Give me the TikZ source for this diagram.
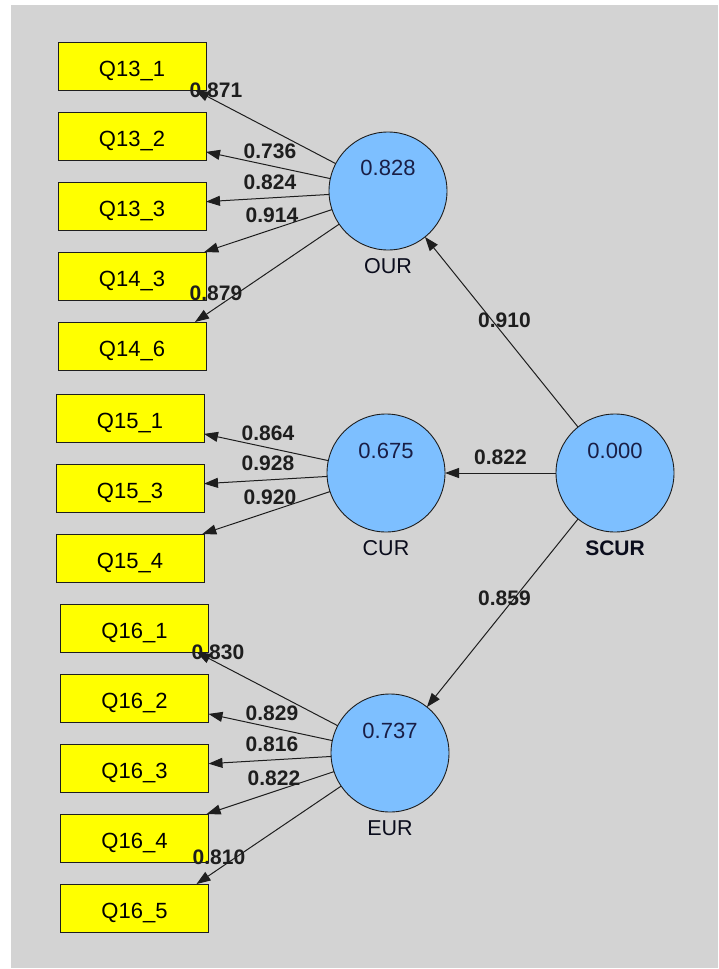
\documentclass[tikz,border=0pt]{standalone}
\usepackage{fontspec}
\setmainfont{Liberation Sans}
\usetikzlibrary{arrows.meta, positioning}
\definecolor{panel}{RGB}{211,211,211}
\definecolor{itemfill}{RGB}{255,255,0}
\definecolor{latentfill}{RGB}{125,191,255}
\definecolor{valtext}{RGB}{25,30,70}
\definecolor{edge}{RGB}{30,30,30}

\begin{document}
\begin{tikzpicture}[x=1pt, y=-1pt,
                item/.style={draw=edge, line width=0.9pt, fill=itemfill, minimum width=148pt,
                             minimum height=48pt, inner sep=0pt, outer sep=0pt,
                             text height=21pt, text depth=0pt,
                             font=\fontsize{22}{24}\selectfont},
                latent/.style={circle, draw=edge, line width=0.9pt, fill=latentfill,
                               minimum size=118pt, inner sep=0pt, outer sep=0pt},
                rsq/.style={font=\fontsize{22}{24}\selectfont, text=valtext, inner sep=0pt},
                lvname/.style={font=\fontsize{21.5}{24}\selectfont, text=valtext!40!black, inner sep=0pt},
                loading/.style={font=\bfseries\fontsize{21}{24}\selectfont, text=edge, inner sep=0pt},
                loadarrow/.style={-{Triangle[length=14pt, width=10pt]}, line width=1pt, draw=edge}]

                % Canvas
                \useasboundingbox (0,0) rectangle (718,969);
                \fill[panel] (11,5) rectangle (718,968);

                % Latent variables
                \node[latent] (our) at (388,191) {};
                \node[latent] (cur) at (386,473) {};
                \node[latent] (eur) at (390,753) {};
                \node[latent] (scur) at (615,473) {};

                % R-square values and names
                \node[rsq] at ([yshift=23pt]our.center) {0.828};
                \node[rsq] at ([yshift=22pt]cur.center) {0.675};
                \node[rsq] at ([yshift=22pt]eur.center) {0.737};
                \node[rsq] at ([yshift=22pt]scur.center) {0.000};
                \node[lvname] at ([yshift=-16pt]our.south) {OUR};
                \node[lvname] at ([yshift=-16pt]cur.south) {CUR};
                \node[lvname] at ([yshift=-16pt]eur.south) {EUR};
                \node[lvname, font=\bfseries\fontsize{21}{24}\selectfont] at ([yshift=-16pt]scur.south) {SCUR};

                % Indicators of OUR
                \node[item] (q131) at (132,66) {Q13\_1};
                \node[item, below=22pt of q131] (q132) {Q13\_2};
                \node[item, below=22pt of q132] (q133) {Q13\_3};
                \node[item, below=22pt of q133] (q143) {Q14\_3};
                \node[item, below=22pt of q143] (q146) {Q14\_6};

                % Indicators of CUR
                \node[item] (q151) at (130,418) {Q15\_1};
                \node[item, below=22pt of q151] (q153) {Q15\_3};
                \node[item, below=22pt of q153] (q154) {Q15\_4};

                % Indicators of EUR
                \node[item] (q161) at (134.5,628) {Q16\_1};
                \node[item, below=22pt of q161] (q162) {Q16\_2};
                \node[item, below=22pt of q162] (q163) {Q16\_3};
                \node[item, below=22pt of q163] (q164) {Q16\_4};
                \node[item, below=22pt of q164] (q165) {Q16\_5};

                % Outer loadings
                \draw[loadarrow] (our) -- ([xshift=-11pt]q131.south east);
                \draw[loadarrow] (our) -- (q132);
                \draw[loadarrow] (our) -- (q133);
                \draw[loadarrow] (our) -- (q143);
                \draw[loadarrow] (our) -- ([xshift=-11pt]q146.north east);
                \draw[loadarrow] (cur) -- (q151);
                \draw[loadarrow] (cur) -- (q153);
                \draw[loadarrow] (cur) -- (q154);
                \draw[loadarrow] (eur) -- ([xshift=-12pt]q161.south east);
                \draw[loadarrow] (eur) -- (q162);
                \draw[loadarrow] (eur) -- (q163);
                \draw[loadarrow] (eur) -- (q164);
                \draw[loadarrow] (eur) -- ([xshift=-12pt]q165.north east);

                \node[loading] at (216,90) {0.871};
                \node[loading] at (270,151) {0.736};
                \node[loading] at (270,182) {0.824};
                \node[loading] at (272,215) {0.914};
                \node[loading] at (216,293) {0.879};
                \node[loading] at (268,433) {0.864};
                \node[loading] at (268,463) {0.928};
                \node[loading] at (270,497) {0.920};
                \node[loading] at (218,652) {0.830};
                \node[loading] at (272,713) {0.829};
                \node[loading] at (272,744) {0.816};
                \node[loading] at (274,778) {0.822};
                \node[loading] at (219,857) {0.810};

                % Structural paths
                \draw[loadarrow] (scur) -- (our)
                    node[loading, midway, xshift=3pt, yshift=12pt] {0.910};
                \draw[loadarrow] (scur) -- (cur)
                    node[loading, midway, yshift=16pt] {0.822};
                \draw[loadarrow] (scur) -- (eur)
                    node[loading, midway, xshift=2pt, yshift=15pt] {0.859};
            \end{tikzpicture}
\end{document}
